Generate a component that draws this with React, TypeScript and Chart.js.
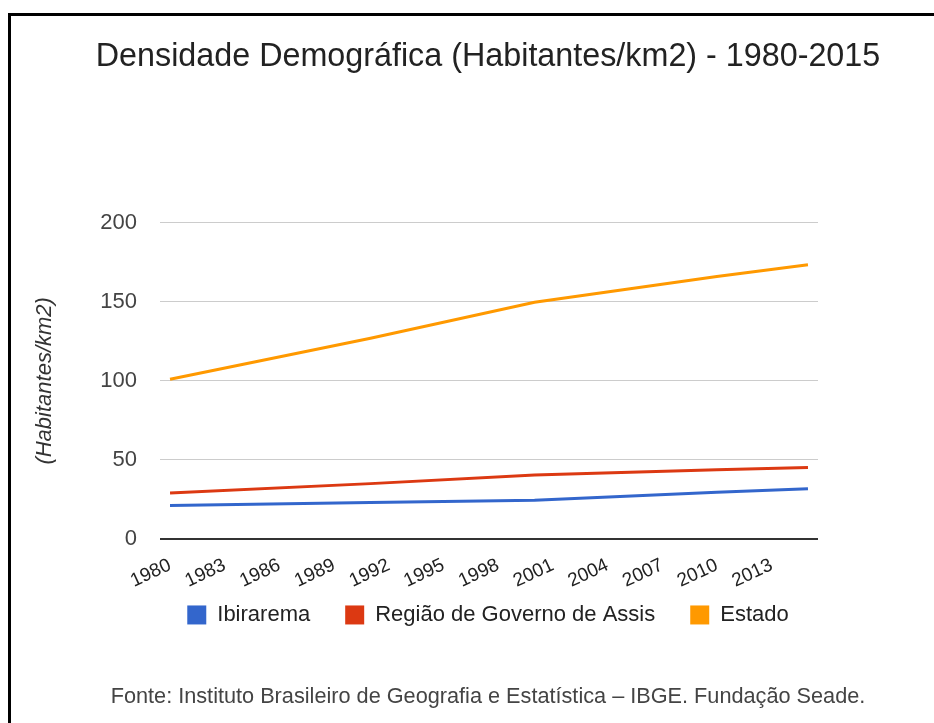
import React, { useEffect, useRef } from "react";
import { Chart, registerables } from "chart.js";

Chart.register(...registerables);

const titleText = "Densidade Demográfica (Habitantes/km2) - 1980-2015";
const yAxisTitle = "(Habitantes/km2)";
const footerText = "Fonte: Instituto Brasileiro de Geografia e Estatística – IBGE. Fundação Seade.";

const years = [1980, 1991, 2000, 2010, 2015];
const seriesNames = ["Ibirarema", "Região de Governo de Assis", "Estado"];
const ibirarema = [21.2, 23.0, 24.5, 29.5, 31.8];
const regiao = [29.0, 35.0, 40.5, 43.8, 45.2];
const estado = [101.0, 127.0, 149.7, 166.0, 173.5];
const seriesColors = ["#3366cc", "#dc3912", "#ff9900"];
const xTickYears = [1980, 1983, 1986, 1989, 1992, 1995, 1998, 2001, 2004, 2007, 2010, 2013];
const yTickValues = [0, 50, 100, 150, 200];

const FONT = '"Liberation Sans", Arial, sans-serif';
const LEGEND_SHIFT = 18;

const legendShift = {
  id: "legendShift",
  afterLayout(chart: any) {
    const lg = chart.legend;
    if (lg) {
      lg.top -= LEGEND_SHIFT;
      lg.bottom -= LEGEND_SHIFT;
    }
  },
};

export default function App() {
  const canvasRef = useRef<HTMLCanvasElement | null>(null);

  useEffect(() => {
    const canvas = canvasRef.current;
    if (!canvas) return;
    const allSeries = [ibirarema, regiao, estado];
    const chart = new Chart(canvas, {
      type: "line",
      data: {
        datasets: allSeries.map((arr, i) => ({
          label: seriesNames[i],
          data: years.map((x, j) => ({ x, y: arr[j] })),
          borderColor: seriesColors[i],
          backgroundColor: seriesColors[i],
          borderWidth: 3,
          pointRadius: 0,
          pointHoverRadius: 0,
          tension: 0,
          fill: false,
        })),
      },
      plugins: [legendShift],
      options: {
        animation: false,
        responsive: false,
        devicePixelRatio: 1,
        layout: { padding: 0 },
        plugins: {
          tooltip: { enabled: false },
          title: {
            display: true,
            text: titleText,
            color: "#222",
            font: { family: FONT, size: 32.3, weight: "normal", lineHeight: 1.2 },
            padding: { top: 22, bottom: 146 },
          },
          subtitle: {
            display: true,
            position: "bottom",
            text: footerText,
            color: "#444",
            font: { family: FONT, size: 21.7, weight: "normal", lineHeight: 1.2 },
            padding: { top: 30, bottom: 13 },
          },
          legend: {
            display: true,
            position: "bottom",
            labels: {
              boxWidth: 19,
              boxHeight: 19,
              padding: 35,
              color: "#222",
              font: { family: FONT, size: 22 },
              generateLabels: (c: any) =>
                Chart.defaults.plugins.legend.labels
                  .generateLabels(c)
                  .map((l: any) => ({ ...l, lineWidth: 0 })),
            },
          },
        },
        scales: {
          x: {
            type: "linear",
            min: 1979.45,
            max: 2015.55,
            grid: { display: false, drawTicks: false },
            border: { display: false },
            afterBuildTicks: (s: any) => {
              s.ticks = xTickYears.map((v) => ({ value: v }));
            },
            afterFit: (s: any) => {
              s.height = 48;
            },
            ticks: {
              autoSkip: false,
              minRotation: 25,
              maxRotation: 25,
              padding: 15,
              color: "#222",
              font: { family: FONT, size: 19 },
              callback: (v: any) => String(v),
            },
          },
          y: {
            type: "linear",
            min: 0,
            max: 200,
            afterBuildTicks: (s: any) => {
              s.ticks = yTickValues.map((v) => ({ value: v }));
            },
            afterFit: (s: any) => {
              s.width = 149;
            },
            grid: {
              drawTicks: false,
              tickLength: 0,
              color: (ctx: any) => (ctx.tick && ctx.tick.value === 0 ? "#333" : "#cccccc"),
              lineWidth: (ctx: any) => (ctx.tick && ctx.tick.value === 0 ? 2 : 1),
            },
            border: { display: false },
            ticks: {
              padding: 23,
              color: "#444",
              font: { family: FONT, size: 22 },
              callback: (v: any) => String(v),
            },
            title: {
              display: true,
              text: yAxisTitle,
              color: "#333",
              font: { family: FONT, size: 22, style: "italic", lineHeight: 1.2 },
              padding: { top: 21, bottom: 0 },
            },
          },
          y2: {
            type: "linear",
            position: "right",
            display: true,
            grid: { display: false, drawTicks: false },
            border: { display: false },
            ticks: { display: false },
            afterFit: (s: any) => {
              s.width = 147;
            },
          },
        },
      } as any,
    });
    return () => chart.destroy();
  }, []);

  return (
    <div
      style={{
        position: "absolute",
        left: 0,
        top: 0,
        width: 934,
        height: 723,
        overflow: "hidden",
        background: "#fff",
      }}
    >
      <div
        style={{
          position: "absolute",
          left: 8,
          top: 13,
          width: 1000,
          height: 800,
          border: "3px solid #000",
          boxSizing: "content-box",
        }}
      />
      <canvas
        ref={canvasRef}
        width={954}
        height={707}
        style={{ position: "absolute", left: 11, top: 16, width: 954, height: 707 }}
      />
    </div>
  );
}
